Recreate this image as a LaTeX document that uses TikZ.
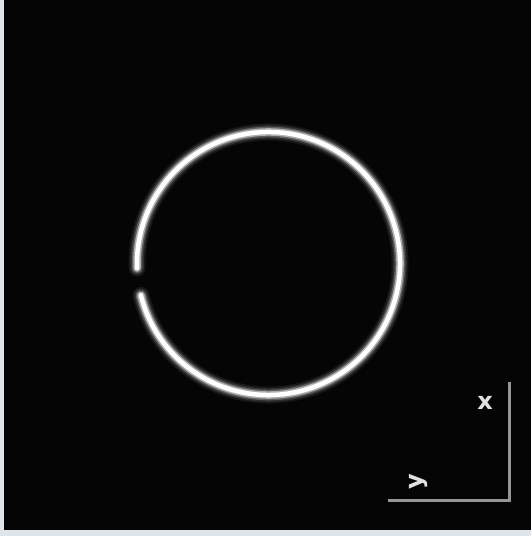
\documentclass[tikz,border=0pt]{standalone}
\usepackage{fontspec}
\setmainfont{DejaVu Sans}
\usepackage{tikz}
\usetikzlibrary{positioning}
\definecolor{vwFrame}{RGB}{223,230,235}
\definecolor{vwBlack}{RGB}{5,5,5}
\definecolor{vwAxis}{RGB}{150,150,150}
\definecolor{vwLabel}{RGB}{225,225,225}

\begin{document}
\begin{tikzpicture}[x=1pt, y=1pt,
    glowA/.style={draw=white!7!vwBlack, line width=17pt, line cap=round},
    glowB/.style={draw=white!17!vwBlack, line width=13.5pt, line cap=round},
    glowC/.style={draw=white!36!vwBlack, line width=10.5pt, line cap=round},
    glowD/.style={draw=white!68!vwBlack, line width=7.5pt, line cap=round},
    core/.style={draw=white, line width=4.5pt, line cap=round},
    axis/.style={draw=vwAxis, line width=3pt},
    axlabel/.style={text=vwLabel, font=\fontsize{24}{24}\selectfont\bfseries, inner sep=0pt}
  ]
    \fill[vwFrame] (0,0) rectangle (531,536);
    \fill[vwBlack] (4,6) rectangle (531,536);
    % ring with a small gap on the left
    \coordinate (ring) at (268.5,272.5);
    \foreach \s in {glowA,glowB,glowC,glowD,core}
      \draw[\s] (ring) ++(194:131.5) arc[start angle=194, end angle=542, radius=131.5];
    % axes marker
    \coordinate (ax0) at (509,35);
    \coordinate (axX) at (509,154);
    \coordinate (axY) at (388,35);
    \draw[axis] (axX) -- (ax0) -- (axY);
    \node[axlabel] (lx) at (485,133) {x};
    \node[axlabel, rotate=90] (ly) at (419,54) {y};
  \end{tikzpicture}
\end{document}
